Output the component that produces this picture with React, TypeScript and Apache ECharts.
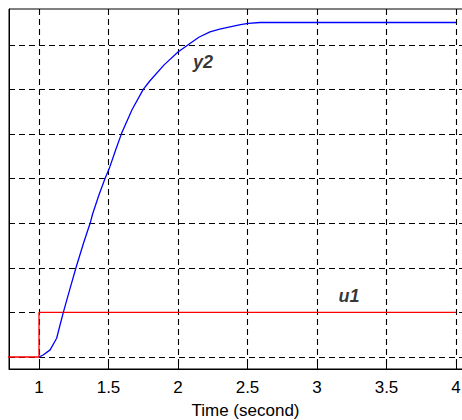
import React, { useEffect, useRef } from "react";
import * as echarts from "echarts";

// Input step u1
const u1Time = [0, 1, 1, 4];
const u1Value = [0, 0, 1, 1];

// Response y2
const y2Time = [1.0, 1.03, 1.08, 1.127, 1.15, 1.175, 1.22, 1.266, 1.32, 1.37, 1.385, 1.43, 1.475, 1.506, 1.55, 1.595, 1.67, 1.75, 1.8, 1.9, 2.0, 2.086, 2.15, 2.23, 2.3, 2.374, 2.45, 2.506, 2.59, 2.7, 3.0, 3.5, 4.0];
const y2Value = [0, 0.045, 0.16, 0.42, 0.7, 1.0, 1.5, 2.0, 2.55, 3.02, 3.2, 3.62, 4.0, 4.23, 4.63, 5.02, 5.55, 6.0, 6.2, 6.55, 6.84, 7.03, 7.17, 7.29, 7.35, 7.4, 7.45, 7.48, 7.5, 7.5, 7.5, 7.5, 7.5];

// Tick values
const xTicks = [1, 1.5, 2, 2.5, 3, 3.5, 4];
const yTicks = [0, 1, 2, 3, 4, 5, 6, 7];

// Curve annotations
const annoNames = ["y2", "u1"];
const annoTime = [2.18, 3.23];
const annoValue = [6.62, 1.36];

const xName = "Time (second)";

export default function App() {
  const ref = useRef<HTMLDivElement>(null);
  useEffect(() => {
    document.body.style.margin = "0";
    const chart = echarts.init(ref.current!, null, { renderer: "svg" });
    const font = "'Liberation Sans', Arial, sans-serif";
    const dash = [6, 4];
    chart.setOption({
      animation: false,
      backgroundColor: "#ffffff",
      grid: {
        left: 9,
        top: 9,
        right: -20,
        bottom: 51,
        show: true,
        borderColor: "#000",
        borderWidth: 1,
        backgroundColor: "transparent",
        containLabel: false,
        outerBoundsMode: "none",
      },
      xAxis: {
        type: "value",
        min: 1 - 30 / 139,
        max: 1 - 30 / 139 + 473 / 139,
        name: xName,
        nameLocation: "middle",
        nameGap: 33,
        nameTextStyle: { fontFamily: font, fontSize: 17, color: "#000" },
        axisLine: { show: true, onZero: false, lineStyle: { color: "#000", width: 1 } },
        axisTick: { show: true, inside: true, length: 4, customValues: xTicks, lineStyle: { color: "#000" } },
        axisLabel: { show: true, customValues: xTicks, margin: 10, fontFamily: font, fontSize: 17, color: "#000" },
        splitLine: { show: true, lineStyle: { color: "#000", type: dash, width: 1.1 } },
      },
      yAxis: {
        type: "value",
        min: -12 / 44.6,
        max: 348 / 44.6,
        axisLine: { show: true, onZero: false, lineStyle: { color: "#000", width: 1 } },
        axisTick: { show: true, inside: true, length: 4, customValues: yTicks, lineStyle: { color: "#000" } },
        axisLabel: { show: false, customValues: yTicks },
        splitLine: { show: true, lineStyle: { color: "#000", type: dash, width: 1.1 } },
      },
      series: [
        {
          type: "line",
          name: "u1",
          data: u1Time.map((t, i) => [t, u1Value[i]]),
          showSymbol: false,
          symbol: "none",
          lineStyle: { color: "#ff0000", width: 1.3 },
          clip: true,
          z: 3,
        },
        {
          type: "line",
          name: "y2",
          data: y2Time.map((t, i) => [t, y2Value[i]]),
          showSymbol: false,
          symbol: "none",
          lineStyle: { color: "#0000ff", width: 1.3 },
          clip: true,
          z: 4,
        },
        {
          type: "scatter",
          name: "labels",
          symbolSize: 1,
          itemStyle: { color: "rgba(0,0,0,0)" },
          data: annoNames.map((n, i) => ({ name: n, value: [annoTime[i], annoValue[i]] })),
          label: {
            show: true,
            position: "inside",
            formatter: (p: any) => p.name,
            fontFamily: font,
            fontSize: 18,
            fontWeight: "bold",
            fontStyle: "italic",
            color: "#000",
          },
          z: 5,
        },
      ],
    });
    return () => chart.dispose();
  }, []);
  return <div ref={ref} style={{ width: 462, height: 420 }} />;
}
